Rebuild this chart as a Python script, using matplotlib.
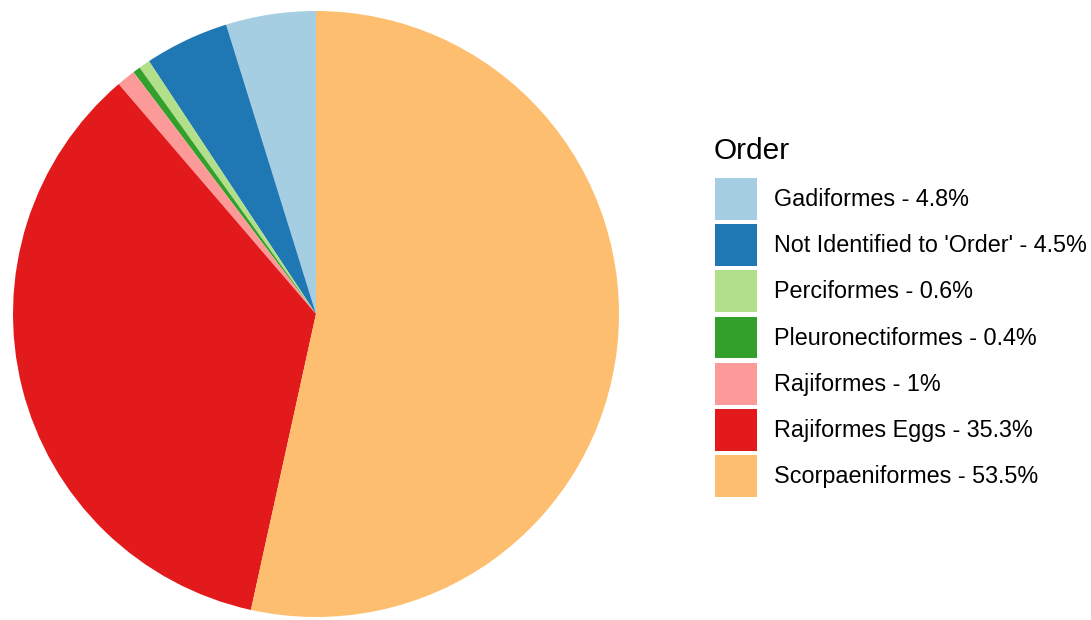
import matplotlib.pyplot as plt

# data
orders = ["Gadiformes", "Not Identified to 'Order'", "Perciformes",
          "Pleuronectiformes", "Rajiformes", "Rajiformes Eggs", "Scorpaeniformes"]
pct = [4.8, 4.5, 0.6, 0.4, 1, 35.3, 53.5]
pct_labels = ["4.8%", "4.5%", "0.6%", "0.4%", "1%", "35.3%", "53.5%"]
colors = ["#A6CEE3", "#1F78B4", "#B2DF8A", "#33A02C", "#FB9A99", "#E31A1C", "#FDBF6F"]

plt.rcParams['font.family'] = ['Liberation Sans', 'DejaVu Sans']

W, H = 1091, 620
fig = plt.figure(figsize=(W / 100, H / 100), dpi=100)
# pie centre ~ (316, 314), radius ~ 303 px
cx, cy, r = 316, 314, 303
ax = fig.add_axes([(cx - r) / W, (H - cy - r) / H, 2 * r / W, 2 * r / H])
wedges, _ = ax.pie(pct, colors=colors, startangle=90, counterclock=True,
                   radius=1, wedgeprops=dict(linewidth=0))
ax.set_xlim(-1, 1)
ax.set_ylim(-1, 1)
ax.set_aspect('equal')
ax.axis('off')

labels = [f"{o} - {p}" for o, p in zip(orders, pct_labels)]
fig.text(714 / W, 1 - 151 / H, "Order", fontsize=21.5, va='center', ha='left')
leg = fig.legend(wedges, labels, loc='upper left',
                 bbox_to_anchor=(715 / W, 1 - 178 / H), frameon=False,
                 fontsize=16.8,
                 handlelength=1.8, handleheight=2.37, labelspacing=0.195,
                 handletextpad=0.75, borderpad=0, borderaxespad=0)

fig.savefig("out.png", dpi=100)
